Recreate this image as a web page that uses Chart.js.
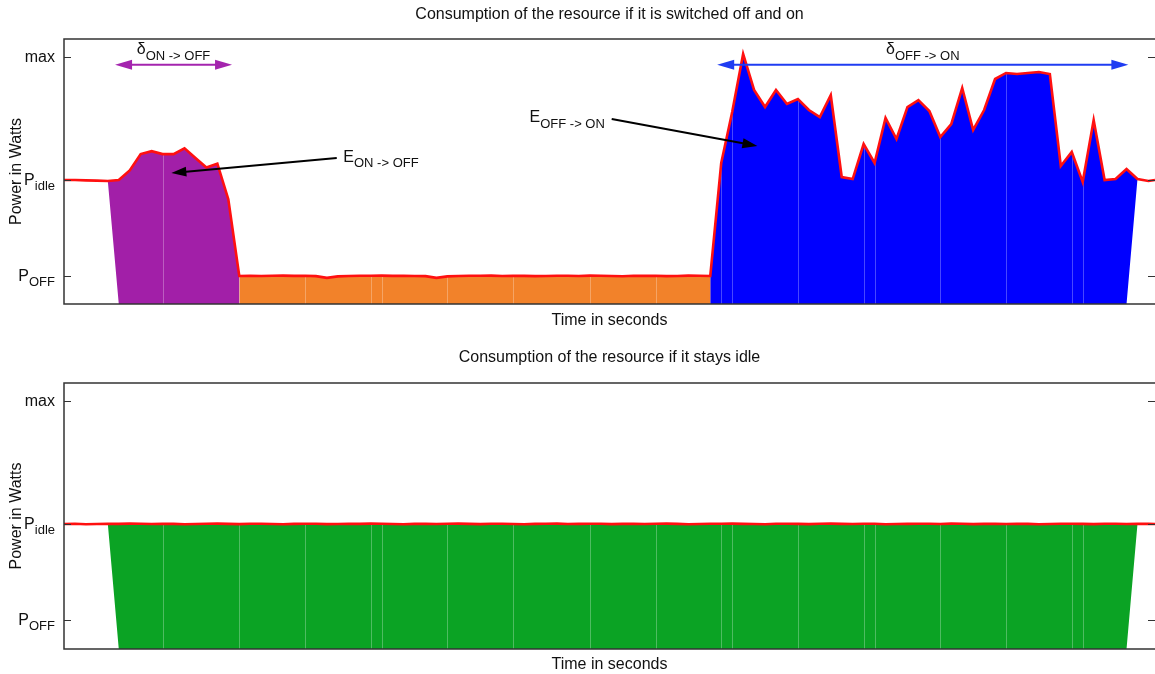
<!DOCTYPE html>
<html>
<head>
<meta charset="utf-8">
<script src="https://cdn.jsdelivr.net/npm/chart.js@4.4.1/dist/chart.umd.min.js"></script>
<style>
  html, body { margin: 0; padding: 0; background: #fff; }
  .panel { position: absolute; left: 0; width: 1155px; height: 337px; }
</style>
</head>
<body>
<div class="panel" style="top:0"><canvas id="switchChart"></canvas></div>
<div class="panel" style="top:337px"><canvas id="idleChart"></canvas></div>
<script>
// time axis (seconds) shared by both panels
const seconds = [
  0, 1, 2, 3, 4, 5, 6, 7, 8, 9,
  10, 11, 12, 13, 14, 15, 16, 17, 18, 19,
  20, 21, 22, 23, 24, 25, 26, 27, 28, 29,
  30, 31, 32, 33, 34, 35, 36, 37, 38, 39,
  40, 41, 42, 43, 44, 45, 46, 47, 48, 49,
  50, 51, 52, 53, 54, 55, 56, 57, 58, 59,
  60, 61, 62, 63, 64, 65, 66, 67, 68, 69,
  70, 71, 72, 73, 74, 75, 76, 77, 78, 79,
  80, 81, 82, 83, 84, 85, 86, 87, 88, 89,
  90, 91, 92, 93, 94, 95, 96, 97, 98, 99, 99.6
];

// power (W) when the resource is switched off then on again
const switchPower = [
  200, 200, 199.6, 199.3, 199, 200, 210, 227, 230, 227,
  227, 233, 223, 213, 217, 180, 100, 100.3, 100, 100.2,
  100.4, 100.1, 100.3, 99.8, 98, 99.6, 100, 100.2, 100.3, 100.4,
  100.1, 100.3, 100, 99.8, 98, 99.6, 100, 100.3, 100.2, 100.4,
  100, 100.3, 100.1, 99.8, 100, 100.3, 100.2, 100, 100.4, 100.2,
  100, 99.7, 100.2, 100.1, 100.3, 99.8, 100, 100.4, 100.2, 100,
  217.7, 270.8, 331.3, 293.8, 276, 293.8, 279.2, 284.4, 272.9, 265.6,
  288.5, 203.1, 201, 237.5, 217.7, 264.6, 242.7, 276, 283.3, 271.9,
  244.8, 258.3, 295.8, 252.1, 272.9, 305.2, 311.5, 310.4, 311.5, 312.5,
  310.4, 214.6, 229.2, 197.9, 262.5, 200, 201, 211.5, 201, 199, 200
];

// power (W) when the resource stays idle
const idlePower = [
  200, 200.2, 199.8, 200, 200.3, 200.1, 200.4, 200.2, 200, 200.3,
  200.1, 199.8, 200, 200.2, 200.4, 200.1, 199.9, 200.2, 200.3, 200,
  199.8, 200.1, 200.3, 200.2, 199.9, 200, 200.3, 200.1, 200.4, 200.2,
  200, 199.8, 200.1, 200.3, 200, 200.2, 200.4, 200.1, 199.9, 200.2,
  200.3, 200, 199.8, 200.1, 200.2, 200.4, 200, 200.1, 200.3, 200.2,
  199.9, 200.1, 200.3, 200, 200.2, 200.4, 200.1, 199.8, 200, 200.3,
  200.2, 200.4, 200.1, 200, 199.8, 200.2, 200.3, 200.1, 199.9, 200.2,
  200.4, 200.1, 200, 200.3, 200.2, 199.8, 200, 200.1, 200.3, 200.2,
  200, 200.4, 200.2, 199.9, 200.1, 200.3, 200, 200.2, 200.1, 199.8,
  200, 200.3, 200.2, 200.1, 199.9, 200.2, 200.3, 200, 200.1, 200.2, 200
];

// y axis ticks (W) and their labels, '_' starts a subscript
const yTickValues = [100, 200, 328];
const yTickLabels = ['P_OFF', 'P_idle', 'max'];

// filled phases: part of the curve used as top, and the x range of the foot
const switchPhases = [
  { top: [4, 16], foot: [5, 16], color: '#a21fa8' },
  { top: [16, 59], foot: [16, 59], color: '#f2822a' },
  { top: [59, 98], foot: [59, 97], color: '#0000ff' }
];
const idlePhases = [
  { top: [4, 98], foot: [5, 97], color: '#0ba324' }
];

// seconds where the filled area shows faint vertical seams
const seamSeconds = [9, 16, 22, 28, 29, 35, 41, 48, 54, 60, 61, 67, 73, 74, 80, 86, 92, 93];

// annotations of the upper panel (seconds, W)
const spanArrows = [
  { label: 'δ_ON -> OFF', from: 4.66, to: 15.34, at: 320, textAt: 335.4, color: '#a424ae' },
  { label: 'δ_OFF -> ON', from: 59.63, to: 97.17, at: 320, textAt: 335.4, color: '#1f3cf2' }
];
const energyNotes = [
  { label: 'E_ON -> OFF', text: [25.5, 223.5], from: [24.9, 222.9], to: [9.8, 207.3] },
  { label: 'E_OFF -> ON', text: [42.5, 264.6], from: [50.0, 263.5], to: [63.3, 235.4] }
];

const FONT = '"Liberation Sans", Arial, sans-serif';
Chart.defaults.font.family = FONT;
Chart.defaults.color = '#111';

function drawSub(ctx, text, x, y, size, align) {
  const parts = text.split('_');
  const main = parts[0], sub = parts[1] || '';
  const subSize = Math.round(size * 0.82);
  ctx.font = size + 'px ' + FONT;
  const wMain = ctx.measureText(main).width;
  ctx.font = subSize + 'px ' + FONT;
  const wSub = sub ? ctx.measureText(sub).width : 0;
  let x0 = x;
  if (align === 'right') x0 = x - wMain - wSub;
  if (align === 'center') x0 = x - (wMain + wSub) / 2;
  ctx.textAlign = 'left';
  ctx.textBaseline = 'middle';
  ctx.fillStyle = '#111';
  ctx.font = size + 'px ' + FONT;
  ctx.fillText(main, x0, y);
  if (sub) {
    ctx.font = subSize + 'px ' + FONT;
    ctx.fillText(sub, x0 + wMain, y + size * 0.38);
  }
}

function arrowHead(ctx, x1, y1, x2, y2, len, half) {
  const ang = Math.atan2(y2 - y1, x2 - x1);
  ctx.beginPath();
  ctx.moveTo(x2, y2);
  ctx.lineTo(x2 - len * Math.cos(ang) + half * Math.sin(ang), y2 - len * Math.sin(ang) - half * Math.cos(ang));
  ctx.lineTo(x2 - len * Math.cos(ang) - half * Math.sin(ang), y2 - len * Math.sin(ang) + half * Math.cos(ang));
  ctx.closePath();
  ctx.fill();
}

// faint seams inside the fills, drawn just before the red curve
const seamPlugin = {
  id: 'seams',
  beforeDatasetDraw(chart, args) {
    if (args.index !== 0) return;
    const { ctx, chartArea: a, scales: { x, y } } = chart;
    const series = chart.data.datasets[0].data;
    ctx.save();
    ctx.strokeStyle = 'rgba(255,255,255,0.28)';
    ctx.lineWidth = 1;
    seamSeconds.forEach(t => {
      const pt = series.find(p => p.x === t);
      const px = Math.round(x.getPixelForValue(t)) + 0.5;
      ctx.beginPath();
      ctx.moveTo(px, a.bottom);
      ctx.lineTo(px, y.getPixelForValue(pt.y));
      ctx.stroke();
    });
    ctx.restore();
  }
};

// gnuplot-like frame, inward ticks, subscript tick labels, annotations
const framePlugin = {
  id: 'frame',
  afterDatasetsDraw(chart) {
    const { ctx, chartArea: a, scales: { x, y } } = chart;
    ctx.save();
    ctx.strokeStyle = '#333';
    ctx.lineWidth = 1.5;
    ctx.beginPath();
    ctx.moveTo(a.right + 2, a.top);
    ctx.lineTo(a.left, a.top);
    ctx.lineTo(a.left, a.bottom);
    ctx.lineTo(a.right + 2, a.bottom);
    ctx.stroke();

    ctx.lineWidth = 1.2;
    yTickValues.forEach((v, i) => {
      const py = Math.round(y.getPixelForValue(v)) + 0.5;
      ctx.beginPath();
      ctx.moveTo(a.left, py); ctx.lineTo(a.left + 7, py);
      ctx.moveTo(a.right - 7, py); ctx.lineTo(a.right, py);
      ctx.stroke();
      drawSub(ctx, yTickLabels[i], a.left - 9, py, 16, 'right');
    });

    if (chart.canvas.id === 'switchChart') {
      spanArrows.forEach(s => {
        const x1 = x.getPixelForValue(s.from), x2 = x.getPixelForValue(s.to);
        const py = y.getPixelForValue(s.at);
        ctx.strokeStyle = s.color; ctx.fillStyle = s.color; ctx.lineWidth = 2;
        ctx.beginPath(); ctx.moveTo(x1 + 10, py); ctx.lineTo(x2 - 10, py); ctx.stroke();
        arrowHead(ctx, x2, py, x1, py, 17, 5);
        arrowHead(ctx, x1, py, x2, py, 17, 5);
        drawSub(ctx, s.label, (x1 + x2) / 2, y.getPixelForValue(s.textAt), 16, 'center');
      });
      energyNotes.forEach(n => {
        const fx = x.getPixelForValue(n.from[0]), fy = y.getPixelForValue(n.from[1]);
        const tx = x.getPixelForValue(n.to[0]), ty = y.getPixelForValue(n.to[1]);
        ctx.strokeStyle = '#000'; ctx.fillStyle = '#000'; ctx.lineWidth = 2;
        const ang = Math.atan2(ty - fy, tx - fx);
        ctx.beginPath(); ctx.moveTo(fx, fy);
        ctx.lineTo(tx - 12 * Math.cos(ang), ty - 12 * Math.sin(ang)); ctx.stroke();
        arrowHead(ctx, fx, fy, tx, ty, 15, 5);
        drawSub(ctx, n.label, x.getPixelForValue(n.text[0]), y.getPixelForValue(n.text[1]), 16, 'left');
      });
    }
    ctx.restore();
  }
};

function phasePolygon(series, phase, yMin) {
  const pts = [{ x: phase.foot[0], y: yMin }];
  seconds.forEach((t, i) => {
    if (t >= phase.top[0] && t <= phase.top[1]) pts.push({ x: t, y: series[i] });
  });
  pts.push({ x: phase.foot[1], y: yMin });
  return pts;
}

function makeChart(id, opt) {
  const line = seconds.map((t, i) => ({ x: t, y: opt.series[i] }));
  const datasets = [{
    data: line,
    borderColor: '#ff1010',
    borderWidth: 2.6,
    pointRadius: 0,
    fill: false,
    order: 0
  }];
  opt.phases.forEach(p => datasets.push({
    data: phasePolygon(opt.series, p, opt.yMin),
    backgroundColor: p.color,
    borderWidth: 0,
    pointRadius: 0,
    fill: 'shape',
    order: 1
  }));
  return new Chart(document.getElementById(id), {
    type: 'line',
    data: { datasets },
    plugins: [seamPlugin, framePlugin],
    options: {
      responsive: true,
      maintainAspectRatio: false,
      animation: false,
      layout: { padding: 0 },
      plugins: {
        legend: { display: false },
        tooltip: { enabled: false },
        title: {
          display: true,
          fullSize: false,
          text: opt.title,
          font: { size: 16, weight: 'normal' },
          color: '#111',
          padding: { top: opt.titleTop, bottom: opt.titleBottom }
        }
      },
      scales: {
        x: {
          type: 'linear',
          min: 0,
          max: 99.6,
          grid: { display: false },
          border: { display: false },
          ticks: { display: false },
          title: { display: true, text: 'Time in seconds', font: { size: 16 }, padding: { top: 0, bottom: opt.xTitlePad } },
          afterFit: s => { s.height = opt.xHeight; }
        },
        y: {
          type: 'linear',
          min: opt.yMin,
          max: 346.9,
          grid: { display: false },
          border: { display: false },
          ticks: { display: false },
          title: { display: true, text: 'Power in Watts', font: { size: 16 }, padding: { top: 6.5, bottom: 0 } },
          afterFit: s => { s.width = 64; }
        }
      }
    }
  });
}

makeChart('switchChart', {
  title: 'Consumption of the resource if it is switched off and on',
  series: switchPower, phases: switchPhases, yMin: 70.8,
  titleTop: 5, titleBottom: 14.8, xHeight: 33, xTitlePad: 6.4
});
makeChart('idleChart', {
  title: 'Consumption of the resource if it stays idle',
  series: idlePower, phases: idlePhases, yMin: 69.8,
  titleTop: 11.4, titleBottom: 15.4, xHeight: 25, xTitlePad: 0
});
</script>
</body>
</html>
